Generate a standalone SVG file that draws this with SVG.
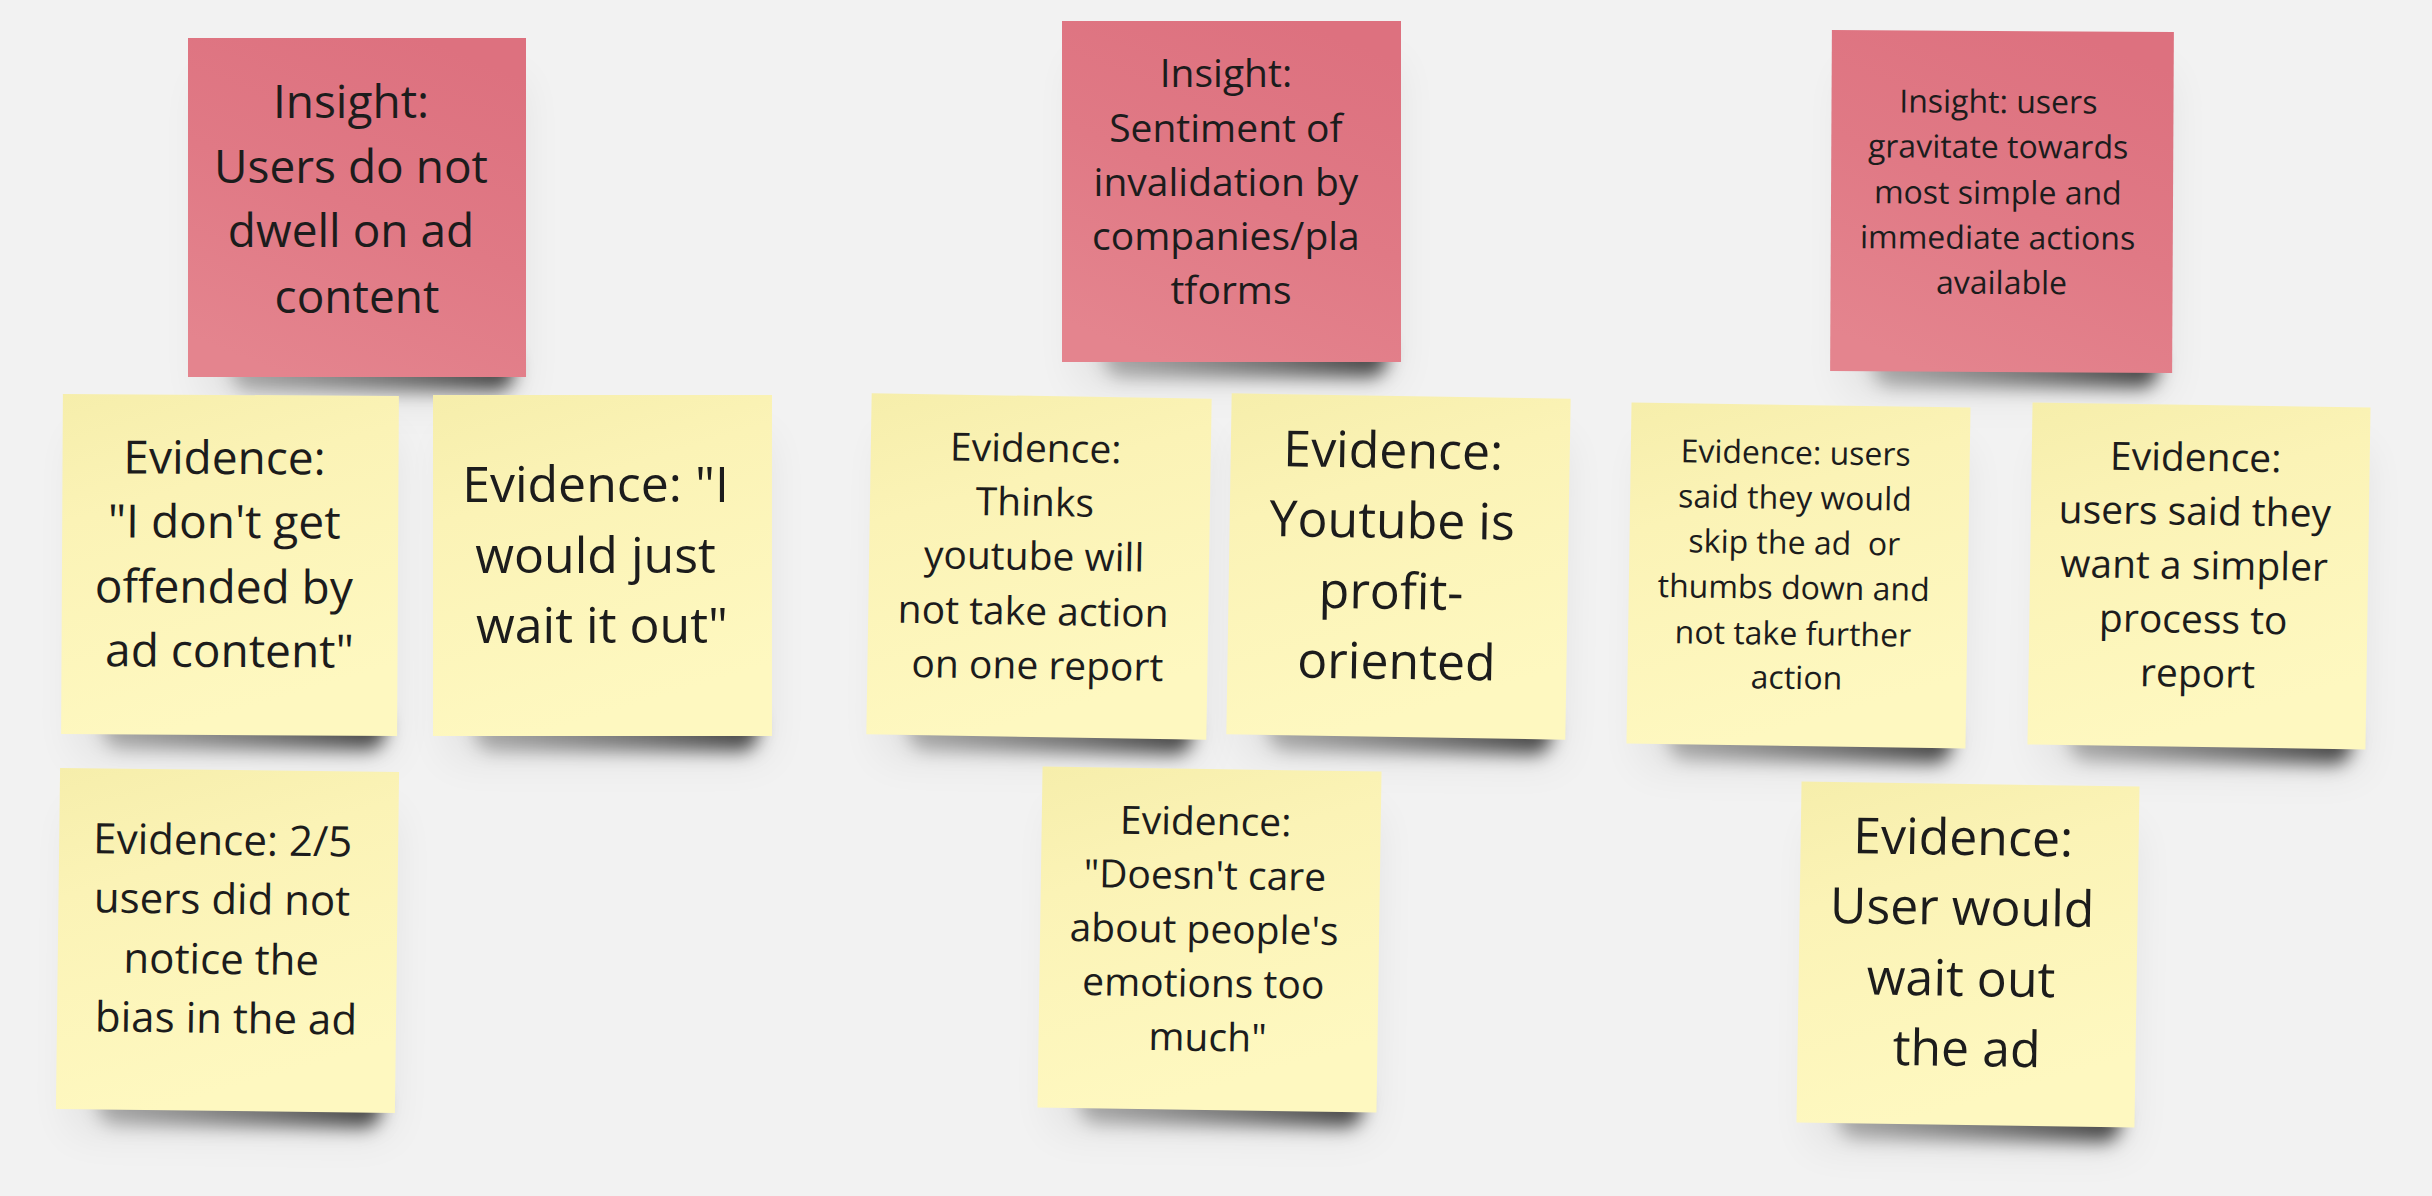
<svg xmlns="http://www.w3.org/2000/svg" width="2432" height="1196" viewBox="0 0 2432 1196">
  <defs>
    <linearGradient id="pinkFill" x1="0.7" y1="0" x2="0.3" y2="1">
      <stop offset="0" stop-color="#dd717f"/>
      <stop offset="0.5" stop-color="#e07985"/>
      <stop offset="1" stop-color="#e4848e"/>
    </linearGradient>
    <linearGradient id="yellowFill" x1="0" y1="0" x2="0.3" y2="1">
      <stop offset="0" stop-color="#f6eeab"/>
      <stop offset="0.35" stop-color="#fbf3b6"/>
      <stop offset="1" stop-color="#fef8c0"/>
    </linearGradient>
    <linearGradient id="shadowFill" x1="0" y1="0" x2="1" y2="0">
      <stop offset="0" stop-color="#000" stop-opacity="0.25"/>
      <stop offset="0.6" stop-color="#000" stop-opacity="0.5"/>
      <stop offset="1" stop-color="#000" stop-opacity="0.7"/>
    </linearGradient>
    <filter id="dropShadow" x="-30%" y="-100%" width="160%" height="300%">
      <feGaussianBlur stdDeviation="9"/>
    </filter>
    <filter id="haze" x="-30%" y="-30%" width="160%" height="160%">
      <feGaussianBlur stdDeviation="22"/>
    </filter>
    <style>
      .bg { fill: #f2f2f2; }
      .pink { fill: url(#pinkFill); }
      .yellow { fill: url(#yellowFill); }
      .shadow { fill: url(#shadowFill); filter: url(#dropShadow); }
      .halo { fill: #000; opacity: 0.07; filter: url(#haze); }
      text { font-family: "Open Sans", "Noto Sans", "Liberation Sans", sans-serif; fill: #1c1c1c; text-anchor: middle; }
    </style>
  </defs>

  <rect class="bg" x="0" y="0" width="2432" height="1196"/>

  <!-- Insight column 1 -->
  <g id="insight-ad-content">
    <rect class="halo" x="203" y="80" width="318" height="320"/>
    <rect class="shadow" x="232" y="349" width="282" height="42" rx="18"/>
    <rect class="pink" x="188" y="38" width="338" height="339"/>
    <text font-size="46">
      <tspan x="357" y="118">Insight:</tspan>
      <tspan x="357" y="183">Users do not</tspan>
      <tspan x="357" y="247">dwell on ad</tspan>
      <tspan x="357" y="313">content</tspan>
    </text>
  </g>

  <g id="evidence-not-offended" transform="rotate(0.3 230 565)">
    <rect class="halo" x="77" y="437" width="316" height="320"/>
    <rect class="shadow" x="104" y="707" width="282" height="42" rx="18"/>
    <rect class="yellow" x="62" y="395" width="336" height="340"/>
    <text font-size="46">
      <tspan x="230" y="474">Evidence:</tspan>
      <tspan x="230" y="538">"I don't get</tspan>
      <tspan x="230" y="603">offended by</tspan>
      <tspan x="230" y="667">ad content"</tspan>
    </text>
  </g>

  <g id="evidence-wait-it-out">
    <rect class="halo" x="448" y="437" width="319" height="321"/>
    <rect class="shadow" x="475" y="709" width="283" height="42" rx="18"/>
    <rect class="yellow" x="433" y="395" width="339" height="341"/>
    <text font-size="50">
      <tspan x="602" y="502">Evidence: "I</tspan>
      <tspan x="602" y="573">would just</tspan>
      <tspan x="602" y="643">wait it out"</tspan>
    </text>
  </g>

  <g id="evidence-did-not-notice" transform="rotate(0.7 227 940)">
    <rect class="halo" x="73" y="812" width="319" height="321"/>
    <rect class="shadow" x="100" y="1084" width="283" height="42" rx="18"/>
    <rect class="yellow" x="58" y="770" width="339" height="341"/>
    <text font-size="42">
      <tspan x="227" y="855">Evidence: 2/5</tspan>
      <tspan x="227" y="914">users did not</tspan>
      <tspan x="227" y="974">notice the</tspan>
      <tspan x="227" y="1033">bias in the ad</tspan>
    </text>
  </g>

  <!-- Insight column 2 -->
  <g id="insight-invalidation">
    <rect class="halo" x="1077" y="63" width="319" height="321"/>
    <rect class="shadow" x="1104" y="335" width="283" height="42" rx="18"/>
    <rect class="pink" x="1062" y="21" width="339" height="341"/>
    <text font-size="39">
      <tspan x="1231" y="87">Insight:</tspan>
      <tspan x="1231" y="142">Sentiment of</tspan>
      <tspan x="1231" y="196">invalidation by</tspan>
      <tspan x="1231" y="250">companies/pla</tspan>
      <tspan x="1231" y="304">tforms</tspan>
    </text>
  </g>

  <g id="evidence-no-action" transform="rotate(0.9 1039 566)">
    <rect class="halo" x="884" y="438" width="320" height="321"/>
    <rect class="shadow" x="911" y="710" width="284" height="42" rx="18"/>
    <rect class="yellow" x="869" y="396" width="340" height="341"/>
    <text font-size="39">
      <tspan x="1039" y="462">Evidence:</tspan>
      <tspan x="1039" y="516">Thinks</tspan>
      <tspan x="1039" y="570">youtube will</tspan>
      <tspan x="1039" y="625">not take action</tspan>
      <tspan x="1039" y="679">on one report</tspan>
    </text>
  </g>

  <g id="evidence-profit-oriented" transform="rotate(0.9 1398 566)">
    <rect class="halo" x="1244" y="438" width="319" height="321"/>
    <rect class="shadow" x="1271" y="710" width="283" height="42" rx="18"/>
    <rect class="yellow" x="1229" y="396" width="339" height="341"/>
    <text font-size="50">
      <tspan x="1398" y="468">Evidence:</tspan>
      <tspan x="1398" y="538">Youtube is</tspan>
      <tspan x="1398" y="609">profit-</tspan>
      <tspan x="1398" y="679">oriented</tspan>
    </text>
  </g>

  <g id="evidence-emotions" transform="rotate(0.85 1209 940)">
    <rect class="halo" x="1055" y="811" width="319" height="321"/>
    <rect class="shadow" x="1082" y="1083" width="283" height="42" rx="18"/>
    <rect class="yellow" x="1040" y="769" width="339" height="341"/>
    <text font-size="39">
      <tspan x="1209" y="835">Evidence:</tspan>
      <tspan x="1209" y="889">"Doesn't care</tspan>
      <tspan x="1209" y="943">about people's</tspan>
      <tspan x="1209" y="997">emotions too</tspan>
      <tspan x="1209" y="1051">much"</tspan>
    </text>
  </g>

  <!-- Insight column 3 -->
  <g id="insight-simple-actions" transform="rotate(0.3 2002 202)">
    <rect class="halo" x="1846" y="73" width="322" height="321"/>
    <rect class="shadow" x="1874" y="345" width="285" height="42" rx="18"/>
    <rect class="pink" x="1831" y="31" width="342" height="341"/>
    <text font-size="32">
      <tspan x="2002" y="113">Insight: users</tspan>
      <tspan x="2002" y="158">gravitate towards</tspan>
      <tspan x="2002" y="204">most simple and</tspan>
      <tspan x="2002" y="249">immediate actions</tspan>
      <tspan x="2002" y="294">available</tspan>
    </text>
  </g>

  <g id="evidence-skip-ad" transform="rotate(0.85 1798 575)">
    <rect class="halo" x="1644" y="447" width="319" height="321"/>
    <rect class="shadow" x="1671" y="719" width="283" height="42" rx="18"/>
    <rect class="yellow" x="1629" y="405" width="339" height="341"/>
    <text font-size="32">
      <tspan x="1798" y="464">Evidence: users</tspan>
      <tspan x="1798" y="509">said they would</tspan>
      <tspan x="1798" y="554" xml:space="preserve">skip the ad  or</tspan>
      <tspan x="1798" y="599">thumbs down and</tspan>
      <tspan x="1798" y="645">not take further</tspan>
      <tspan x="1798" y="689">action</tspan>
    </text>
  </g>

  <g id="evidence-simpler-process" transform="rotate(0.85 2199 576)">
    <rect class="halo" x="2045" y="447" width="318" height="322"/>
    <rect class="shadow" x="2072" y="720" width="282" height="42" rx="18"/>
    <rect class="yellow" x="2030" y="405" width="338" height="342"/>
    <text font-size="39">
      <tspan x="2199" y="471">Evidence:</tspan>
      <tspan x="2199" y="525">users said they</tspan>
      <tspan x="2199" y="579">want a simpler</tspan>
      <tspan x="2199" y="633">process to</tspan>
      <tspan x="2199" y="687">report</tspan>
    </text>
  </g>

  <g id="evidence-wait-out-ad" transform="rotate(0.85 1968 954)">
    <rect class="halo" x="1814" y="826" width="318" height="321"/>
    <rect class="shadow" x="1841" y="1098" width="282" height="42" rx="18"/>
    <rect class="yellow" x="1799" y="784" width="338" height="341"/>
    <text font-size="50">
      <tspan x="1968" y="855">Evidence:</tspan>
      <tspan x="1968" y="925">User would</tspan>
      <tspan x="1968" y="996">wait out</tspan>
      <tspan x="1968" y="1066">the ad</tspan>
    </text>
  </g>

  <!-- no connectors between the notes -->
  <g id="connectors"/>
</svg>
